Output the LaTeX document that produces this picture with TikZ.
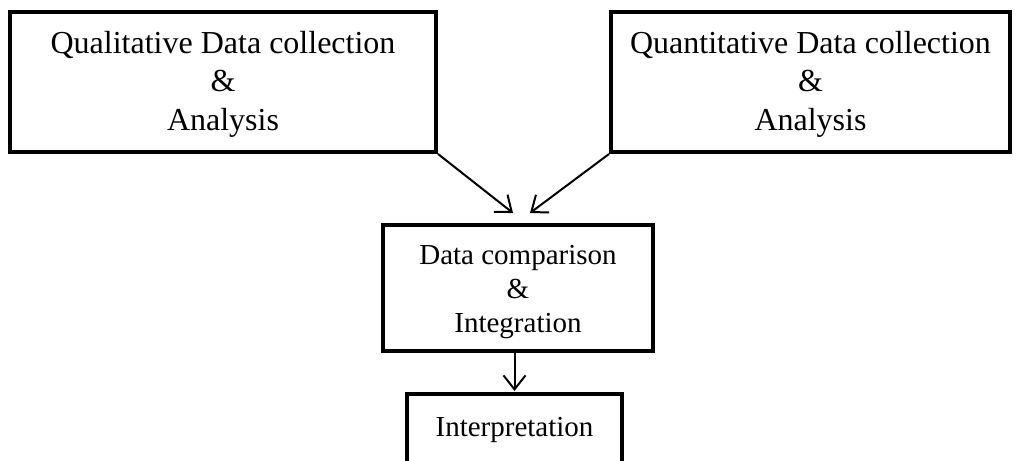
\documentclass[tikz,border=0pt]{standalone}
\usepackage{fontspec}
\setmainfont{Liberation Serif}
\usetikzlibrary{arrows.meta}
\begin{document}
\begin{tikzpicture}[x=1pt,y=-1pt,
  box/.style={draw=black, line width=4pt, rectangle, inner sep=0pt},
  txt/.style={align=center, inner sep=0pt},
  bigtext/.style={txt, font=\fontsize{32}{38.5}\selectfont},
  midtext/.style={txt, font=\fontsize{29}{34}\selectfont},
  arr/.style={line width=2pt, -{Straight Barb[length=14pt,width=22pt,line width=2pt]}}]
\useasboundingbox (0,0) rectangle (1016,460);
\clip (0,0) rectangle (1016,460);
\node[box, minimum width=426pt, minimum height=140pt] (L) at (223,82) {};
\node[bigtext] (Lt) at ([yshift=-2pt]L.center) {Qualitative Data collection\\\&\\Analysis};
\node[box, minimum width=399pt, minimum height=140pt] (R) at (810.5,82) {};
\node[bigtext] (Rt) at ([yshift=-2pt]R.center) {Quantitative Data collection\\\&\\Analysis};
\node[box, minimum width=270pt, minimum height=126pt] (M) at (518,288) {};
\node[midtext] (Mt) at ([yshift=-4pt]M.center) {Data comparison\\\&\\Integration};
\node[box, minimum width=215pt, minimum height=70pt] (B) at (514.5,429) {};
\node[midtext] (Bt) at ([yshift=-1pt]B.center) {Interpretation};
\coordinate (tl) at (513,213);
\coordinate (tr) at (530,213);
\draw[arr] (L.south east) -- (tl);
\draw[arr] (R.south west) -- (tr);
\draw[arr, shorten >=1pt] (M.south -| B.north) -- (B.north);
\end{tikzpicture}
\end{document}
